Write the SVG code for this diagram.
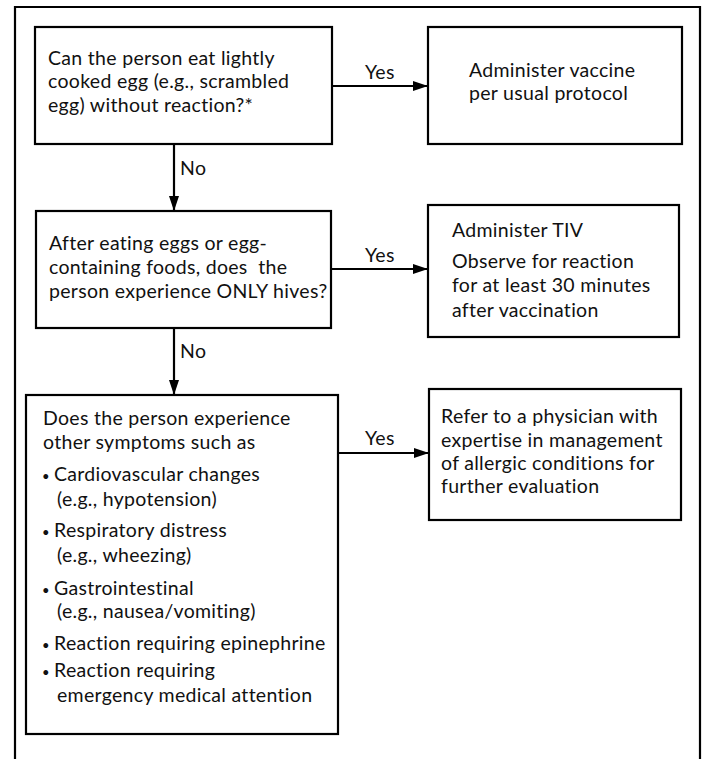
<svg xmlns="http://www.w3.org/2000/svg" width="704" height="759" viewBox="0 0 704 759">
  <defs>
    <marker id="arrow" markerWidth="15" markerHeight="10" refX="15" refY="5" orient="auto" markerUnits="userSpaceOnUse">
      <path d="M0,0 L15,5 L0,10 Z" fill="#000"/>
    </marker>
    <style>
      .box { fill: #fff; stroke: #000; stroke-width: 2.2; }
      .frame { fill: none; stroke: #000; stroke-width: 2.2; }
      .edge { fill: none; stroke: #000; stroke-width: 2.2; marker-end: url(#arrow); }
      text { font-family: Lato, "Open Sans", sans-serif; font-size: 19.5px; letter-spacing: 0.3px; fill: #111; }
      .dot { font-size: 13px; }
    </style>
  </defs>
  <rect width="704" height="759" fill="#fff"/>

  <!-- outer frame, open at the bottom -->
  <path class="frame" d="M15,760 L15,7 L700,7 L700,760"/>

  <g id="q1">
    <rect class="box" x="35" y="27" width="297" height="117"/>
    <text x="48" y="65">Can the person eat lightly</text>
    <text x="48" y="88">cooked egg (e.g., scrambled</text>
    <text x="48" y="112">egg) without reaction?*</text>
  </g>

  <g id="a1">
    <rect class="box" x="428" y="27" width="254" height="117"/>
    <text x="469" y="77">Administer vaccine</text>
    <text x="469" y="100">per usual protocol</text>
  </g>

  <g id="q2">
    <rect class="box" x="36" y="211" width="295" height="117"/>
    <text x="49" y="250">After eating eggs or egg-</text>
    <text x="49" y="274" style="white-space:pre">containing foods, does  the</text>
    <text x="49" y="298">person experience ONLY hives?</text>
  </g>

  <g id="a2">
    <rect class="box" x="428" y="205" width="251" height="132"/>
    <text x="452" y="237">Administer TIV</text>
    <text x="452" y="268">Observe for reaction</text>
    <text x="452" y="292">for at least 30 minutes</text>
    <text x="452" y="317">after vaccination</text>
  </g>

  <g id="q3">
    <rect class="box" x="26" y="395" width="312" height="339"/>
    <text x="43" y="425">Does the person experience</text>
    <text x="43" y="449">other symptoms such as</text>
    <text x="42" y="481"><tspan class="dot">• </tspan><tspan x="54">Cardiovascular changes</tspan></text>
    <text x="57" y="506">(e.g., hypotension)</text>
    <text x="42" y="537"><tspan class="dot">• </tspan><tspan x="54">Respiratory distress</tspan></text>
    <text x="57" y="562">(e.g., wheezing)</text>
    <text x="42" y="595"><tspan class="dot">• </tspan><tspan x="54">Gastrointestinal</tspan></text>
    <text x="57" y="618">(e.g., nausea/vomiting)</text>
    <text x="42" y="650"><tspan class="dot">• </tspan><tspan x="54">Reaction requiring epinephrine</tspan></text>
    <text x="42" y="677"><tspan class="dot">• </tspan><tspan x="54">Reaction requiring</tspan></text>
    <text x="57" y="702">emergency medical attention</text>
  </g>

  <g id="a3">
    <rect class="box" x="429" y="389" width="252" height="131"/>
    <text x="441" y="423">Refer to a physician with</text>
    <text x="441" y="447">expertise in management</text>
    <text x="441" y="470">of allergic conditions for</text>
    <text x="441" y="493">further evaluation</text>
  </g>

  <g id="connectors">
    <line class="edge" x1="332" y1="86" x2="428" y2="86"/>
    <text x="365" y="79">Yes</text>
    <line class="edge" x1="174" y1="144" x2="174" y2="211"/>
    <text x="180" y="175">No</text>
    <line class="edge" x1="331" y1="269" x2="428" y2="269"/>
    <text x="365" y="262">Yes</text>
    <line class="edge" x1="174" y1="328" x2="174" y2="395"/>
    <text x="180" y="358">No</text>
    <line class="edge" x1="338" y1="453" x2="429" y2="453"/>
    <text x="365" y="445">Yes</text>
  </g>
</svg>
